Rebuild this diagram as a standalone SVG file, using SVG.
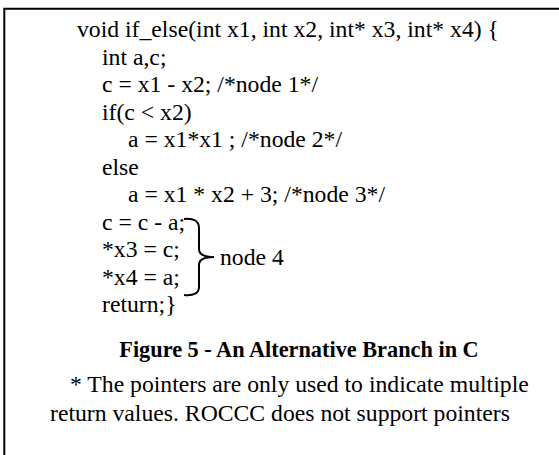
<svg xmlns="http://www.w3.org/2000/svg" width="559" height="455" viewBox="0 0 559 455">
<style>
text{font-family:"Liberation Serif","Times New Roman",Times,serif;fill:#000}
.code{font-size:23.7px}
.cap{font-size:22.3px;font-weight:bold}
.note{font-size:23.7px}
.brace{fill:none;stroke:#000;stroke-width:2}
</style>
<rect x="0" y="0" width="559" height="455" fill="#fff"/>
<path d="M4.3,460 L4.3,8.7 L565,8.7" fill="none" stroke="#000" stroke-width="2"/>
<g id="code">
<text class="code" x="77" y="37">void if_else(int x1, int x2, int* x3, int* x4) {</text>
<text class="code" x="102" y="64.5">int a,c;</text>
<text class="code" x="102" y="92">c = x1 - x2; /*node 1*/</text>
<text class="code" x="102" y="119.5">if(c &lt; x2)</text>
<text class="code" x="128" y="147">a = x1*x1 ; /*node 2*/</text>
<text class="code" x="102" y="174.5">else</text>
<text class="code" x="128" y="202">a = x1 * x2 + 3; /*node 3*/</text>
<text class="code" x="102" y="229.5">c = c - a;</text>
<text class="code" x="102" y="257">*x3 = c;</text>
<text class="code" x="102" y="284.5">*x4 = a;</text>
<text class="code" x="102" y="312">return;}</text>
</g>
<g id="node4">
<path class="brace" d="M184,219 C194,218 199,221 199,228 L199,249 C199,254 203,257 214,257 C203,257 199,260 199,265 L199,287 C199,293 194,296 184,295"/>
<text class="code" x="220" y="265">node 4</text>
</g>
<g id="caption">
<text class="cap" x="299" y="357" text-anchor="middle">Figure 5 - An Alternative Branch in C</text>
<text class="note" x="70" y="392">* The pointers are only used to indicate multiple</text>
<text class="note" x="50" y="421">return values. ROCCC does not support pointers</text>
</g>
</svg>
